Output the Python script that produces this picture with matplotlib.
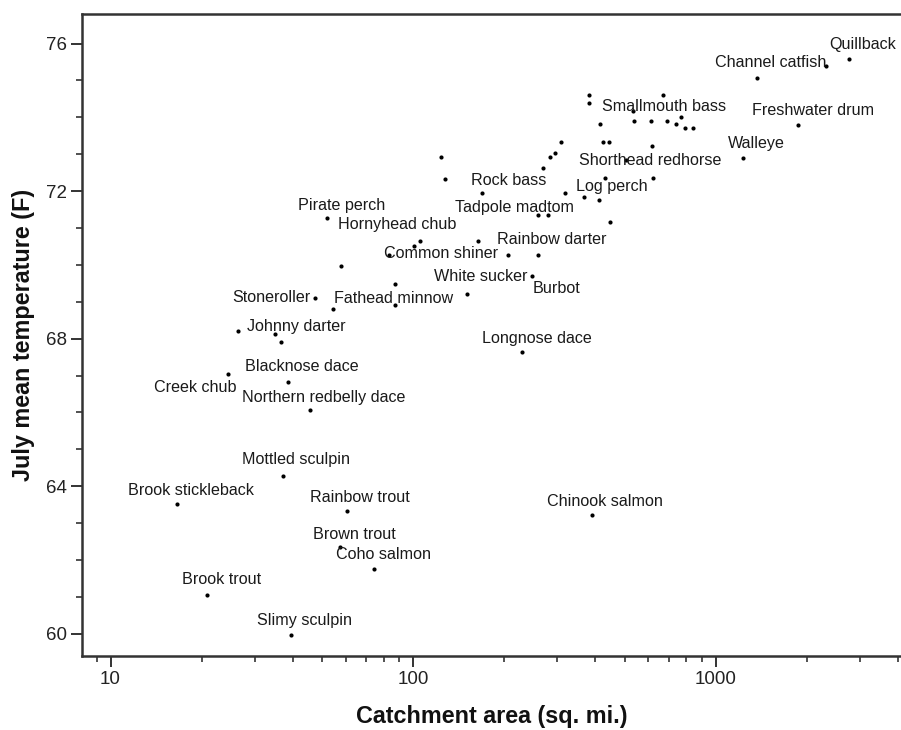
import numpy as np
import matplotlib
matplotlib.use("Agg")
import matplotlib.pyplot as plt
from matplotlib.ticker import FixedLocator, FormatStrFormatter, NullFormatter, LogLocator

plt.rcParams['font.family'] = ['Liberation Sans', 'DejaVu Sans']

# named species: catchment area (sq. mi.) and July mean temperature (F)
species = ["Quillback", "Channel catfish", "Freshwater drum", "Walleye",
           "Smallmouth bass", "Shorthead redhorse", "Log perch", "Rock bass",
           "Tadpole madtom", "Rainbow darter", "White sucker", "Burbot",
           "Hornyhead chub", "Common shiner", "Pirate perch", "Stoneroller",
           "Fathead minnow", "Johnny darter", "Blacknose dace", "Creek chub",
           "Northern redbelly dace", "Longnose dace", "Mottled sculpin",
           "Brook stickleback", "Rainbow trout", "Chinook salmon", "Brown trout",
           "Coho salmon", "Brook trout", "Slimy sculpin"]
species_area = [2757, 1368, 1867, 1230, 612, 620, 412, 168.5, 259, 258, 150.3, 247,
                105.6, 100.4, 51.8, 47.3, 86.9, 36.6, 38.5, 24.4, 45.6, 230, 37.2,
                16.6, 60.3, 391, 57.3, 74.3, 20.9, 39.4]
species_temp = [75.57, 75.07, 73.79, 72.90, 73.89, 72.35, 71.75, 71.95, 71.36, 70.27,
                69.20, 69.70, 70.66, 70.50, 71.27, 69.11, 68.91, 67.92, 66.83, 67.03,
                66.06, 67.63, 64.28, 63.51, 63.33, 63.21, 62.35, 61.75, 61.06, 59.97]

# remaining species without a printed name
other_area = [2316, 123.8, 127.7, 381.6, 381.6, 670, 534, 414.8, 537, 691, 737, 771,
              795, 844, 307.8, 294, 283, 424, 444, 617, 269, 504, 431, 317, 366,
              279.5, 447, 164.4, 206, 83.2, 57.6, 86.9, 54.2, 26.4, 35.0]
other_temp = [75.38, 72.92, 72.33, 74.60, 74.39, 74.60, 74.16, 73.82, 73.89, 73.89,
              73.82, 74.00, 73.70, 73.70, 73.32, 73.03, 72.92, 73.32, 73.32, 73.21,
              72.63, 72.85, 72.35, 71.95, 71.84, 71.36, 71.16, 70.66, 70.27, 70.27,
              69.98, 69.49, 68.80, 68.22, 68.13]

# label placement relative to its point, in pixels (right, up)
label_offsets = [(14, 15), (14, 15), (15, 15), (14, 14), (13, 15), (-3, 18), (13, 14),
                 (27, 12), (-24, 7), (14, 15), (14, 18), (25, -13), (-23, 16), (27, -7),
                 (15, 13), (-43, 0), (-1, 7), (15, 15), (14, 15), (-32, -13), (14, 13),
                 (14, 14), (13, 16), (14, 14), (13, 13), (13, 14), (14, 13), (9, 15),
                 (14, 15), (14, 14)]

fig = plt.figure(figsize=(9.01, 7.30), dpi=100)
ax = fig.add_axes([82 / 901, 1 - 656 / 730, 1 - 82 / 901, (656 - 14) / 730])

ax.plot(other_area, other_temp, 'o', color='black', markersize=3, markeredgewidth=0)
ax.plot(species_area, species_temp, 'o', color='black', markersize=3, markeredgewidth=0)

for name, a, t, off in zip(species, species_area, species_temp, label_offsets):
    ax.annotate(name, (a, t), xytext=off, textcoords='offset pixels',
                ha='center', va='center', fontsize=11.6, color='#1a1a1a')

ax.set_xscale('log')
ax.set_xlim(8.05, 4100)
ax.set_ylim(59.4, 76.8)

ax.xaxis.set_major_locator(FixedLocator([10, 100, 1000]))
ax.xaxis.set_major_formatter(FormatStrFormatter('%d'))
ax.xaxis.set_minor_locator(LogLocator(base=10, subs=np.arange(2, 10)))
ax.xaxis.set_minor_formatter(NullFormatter())
ax.yaxis.set_major_locator(FixedLocator([60, 64, 68, 72, 76]))
ax.yaxis.set_minor_locator(FixedLocator(np.arange(60, 77)))

ax.tick_params(which='major', length=8, width=1.4, color='#333333',
               labelsize=13.5, labelcolor='#222222', pad=3)
ax.tick_params(which='minor', length=4, width=1.2, color='#333333')

for side in ['top', 'left', 'bottom']:
    ax.spines[side].set_linewidth(1.8)
    ax.spines[side].set_color('#333333')
ax.spines['right'].set_visible(False)

ax.set_xlabel('Catchment area (sq. mi.)', fontsize=16.8, fontweight='bold',
              color='#111111', labelpad=12)
ax.set_ylabel('July mean temperature (F)', fontsize=16.8, fontweight='bold',
              color='#111111', labelpad=8)

fig.savefig('out.png', dpi=100)
